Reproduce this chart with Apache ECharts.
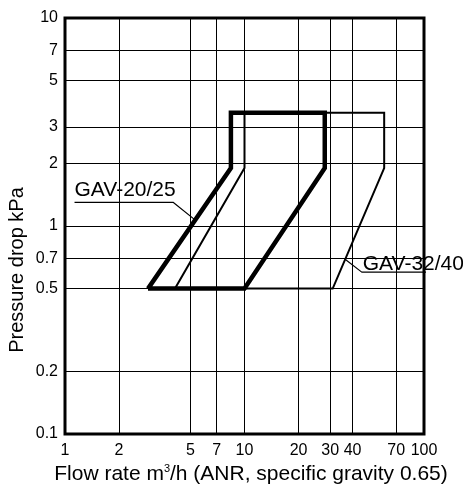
<!DOCTYPE html>
<html>
<head>
<meta charset="utf-8">
<script src="https://cdn.jsdelivr.net/npm/echarts@6/dist/echarts.min.js"></script>
<style>html,body{margin:0;padding:0;background:#fff;}#c{width:463px;height:487px;}</style>
</head>
<body>
<div id="c"></div>
<script>
// ---- data ----
const xTicks = [1, 2, 5, 7, 10, 20, 30, 40, 70, 100];
const yTicks = [0.1, 0.2, 0.5, 0.7, 1, 2, 3, 5, 7, 10];
const gav2025 = [[2.9, 0.5], [8.4, 1.9], [8.4, 3.5], [28, 3.5], [28, 1.9], [10, 0.5], [2.9, 0.5]];
const gav3240 = [[4.1, 0.5], [10, 1.9], [10, 3.5], [60, 3.5], [60, 1.9], [31, 0.5], [4.1, 0.5]];
const leader2025 = [[5.3, 1.07], [4.0, 1.3], [1.13, 1.3]];
const leader3240 = [[36.5, 0.69], [45, 0.6], [163, 0.6]];
const seriesNames = ['GAV-20/25', 'GAV-32/40'];
const xTitle = 'Flow rate m{sup|3}/h (ANR, specific gravity 0.65)';
const yTitle = 'Pressure drop kPa';

const tickFont = '"Liberation Sans Narrow", "Arial Narrow", "Liberation Sans", sans-serif';
const textFont = '"Liberation Sans", Arial, sans-serif';

const chart = echarts.init(document.getElementById('c'), null, {renderer: 'canvas'});

const gridLines = [];
xTicks.slice(1, -1).forEach(v => gridLines.push({xAxis: v}));
yTicks.slice(1, -1).forEach(v => gridLines.push({yAxis: v}));

const option = {
  animation: false,
  backgroundColor: '#fff',
  grid: {left: 65, right: 39, top: 18, bottom: 53, show: true, borderColor: '#000', borderWidth: 3, backgroundColor: 'transparent'},
  xAxis: {
    type: 'log', logBase: 10, min: 1, max: 100,
    axisLine: {show: false}, axisTick: {show: false}, splitLine: {show: false}, minorSplitLine: {show: false},
    axisLabel: {customValues: xTicks, margin: 9, color: '#000', fontSize: 16, fontFamily: tickFont, formatter: v => String(v)}
  },
  yAxis: {
    type: 'log', logBase: 10, min: 0.1, max: 10,
    axisLine: {show: false}, axisTick: {show: false}, splitLine: {show: false},
    axisLabel: {customValues: yTicks, margin: 7, color: '#000', fontSize: 16, fontFamily: tickFont, formatter: v => String(v)}
  },
  series: [
    {
      name: seriesNames[1], type: 'line', data: gav3240, symbol: 'none', z: 3,
      lineStyle: {color: '#000', width: 2, join: 'miter'},
      markLine: {
        silent: true, symbol: ['none', 'none'], label: {show: false},
        lineStyle: {color: '#000', width: 1, type: 'solid'},
        data: gridLines, z: 1
      }
    },
    {
      name: seriesNames[0], type: 'line', data: gav2025, symbol: 'none', z: 4,
      lineStyle: {color: '#000', width: 4.5, join: 'miter'}
    },
    {
      name: seriesNames[0] + ' leader', type: 'line', data: leader2025, symbol: 'none', clip: false, z: 5,
      lineStyle: {color: '#000', width: 1.2}
    },
    {
      name: seriesNames[1] + ' leader', type: 'line', data: leader3240, symbol: 'none', clip: false, z: 5,
      lineStyle: {color: '#000', width: 1.2}
    }
  ]
};
chart.setOption(option);

const p1 = chart.convertToPixel({gridIndex: 0}, leader2025[2]);
const p2 = chart.convertToPixel({gridIndex: 0}, leader3240[1]);

chart.setOption({
  graphic: [
    {type: 'text', x: p1[0], y: p1[1] - 12, z: 10,
      style: {text: seriesNames[0], fontSize: 21, fontFamily: textFont, fill: '#000', align: 'left', verticalAlign: 'middle'}},
    {type: 'text', x: p2[0] + 1, y: p2[1] - 8, z: 10,
      style: {text: seriesNames[1], fontSize: 21, fontFamily: textFont, fill: '#000', align: 'left', verticalAlign: 'middle'}},
    {type: 'text', x: 251, y: 474, z: 10,
      style: {text: xTitle, fill: '#000', align: 'center', verticalAlign: 'middle', fontSize: 21, fontFamily: textFont,
        rich: {sup: {fontSize: 11, fontFamily: textFont, verticalAlign: 'top', padding: [0, 0, 9, 0], fill: '#000'}}}},
    {type: 'text', x: 17, y: 270, rotation: Math.PI / 2, z: 10,
      style: {text: yTitle, fill: '#000', align: 'center', verticalAlign: 'middle', fontSize: 20, fontFamily: textFont}}
  ]
});
</script>
</body>
</html>
